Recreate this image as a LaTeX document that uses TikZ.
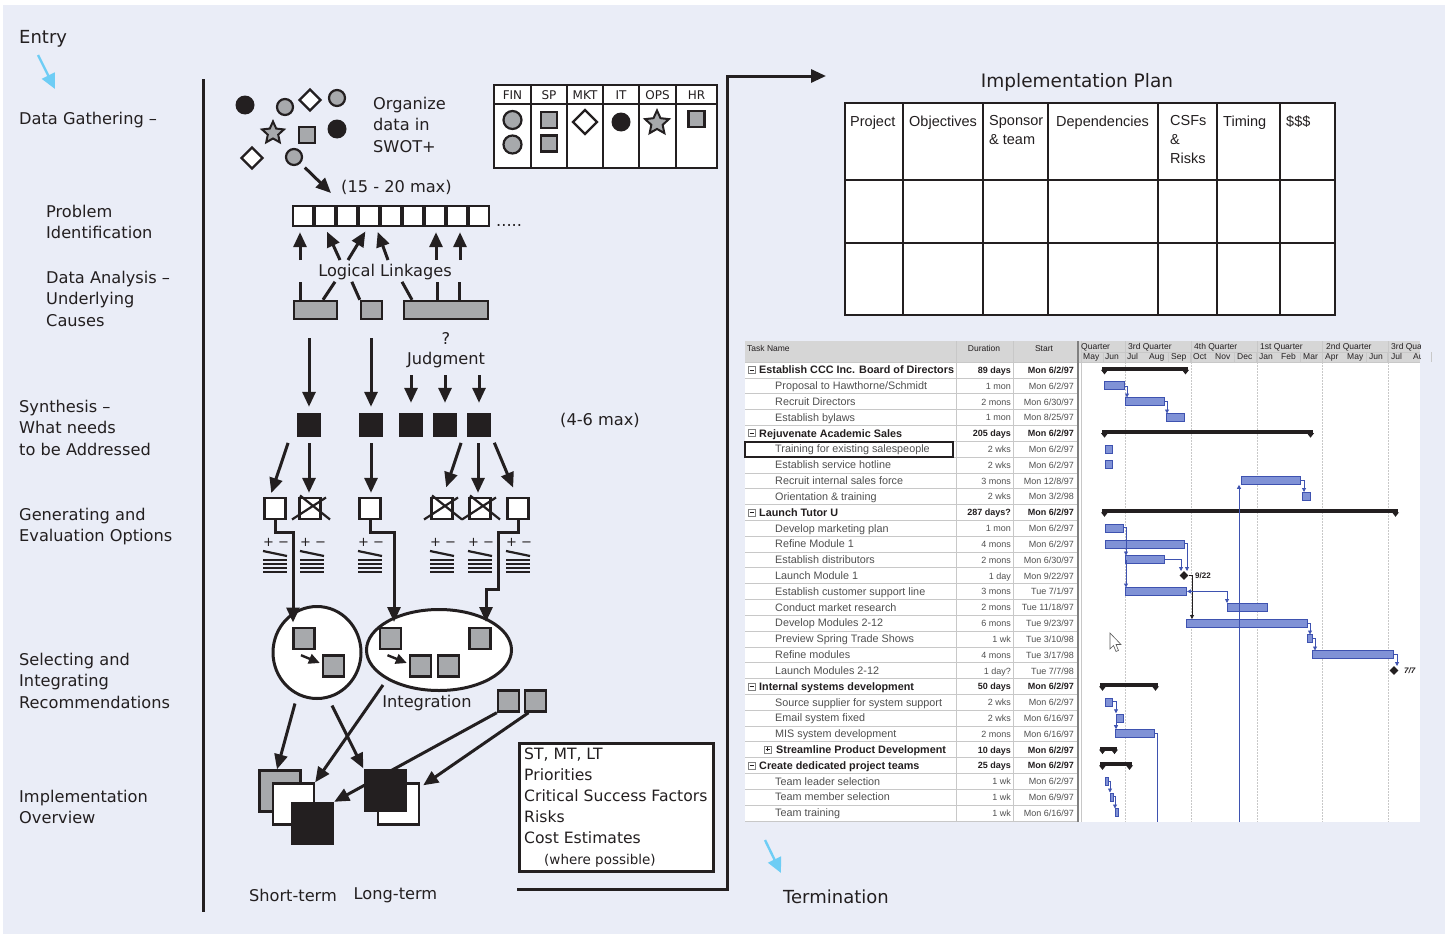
\documentclass[tikz,border=0pt]{standalone}
\usepackage{fontspec}
\setmainfont{DejaVu Sans}
\newfontfamily\planfont{Liberation Sans}
\newfontfamily\ganttfont{Liberation Sans}
\usetikzlibrary{arrows.meta,shapes.geometric}

\definecolor{paper}{RGB}{234,237,247}
\definecolor{ink}{RGB}{35,31,32}
\definecolor{swotgrey}{RGB}{167,169,172}
\definecolor{skyarrow}{RGB}{110,205,245}
\definecolor{barblue}{RGB}{128,146,214}
\definecolor{barline}{RGB}{62,82,176}
\definecolor{ganttgrid}{RGB}{200,200,200}
\definecolor{ganttgrey}{RGB}{214,214,214}
\definecolor{tasktext}{RGB}{80,80,80}

\begin{document}
\begin{tikzpicture}[x=1pt,y=-1pt]
        \tikzstyle{stage}=[anchor=north west, inner sep=0pt, align=left, text=ink, font=\fontsize{16.2}{21.5}\selectfont]
        \tikzstyle{txt}=[inner sep=0pt, text=ink, font=\fontsize{16.2}{21.5}\selectfont]
        \tikzstyle{ln}=[draw=ink, line width=3pt]
        \tikzstyle{arr}=[ln, -{Triangle[length=15pt,width=13pt]}]
        \tikzstyle{arrsmall}=[draw=ink, line width=2.4pt, -{Triangle[length=11pt,width=10pt]}]
        \tikzstyle{cyanarr}=[draw=skyarrow, line width=2.4pt, -{Triangle[length=15pt,width=14pt]}]
        \tikzstyle{gsq}=[rectangle, draw=ink, line width=2.4pt, fill=swotgrey, minimum size=21pt, inner sep=0pt]
        \tikzstyle{wsq}=[rectangle, draw=ink, line width=2.4pt, fill=white, minimum size=21pt, inner sep=0pt]
        \tikzstyle{bsq}=[rectangle, fill=ink, minimum size=24pt, inner sep=0pt]
        \tikzstyle{gdot}=[circle, draw=ink, line width=2.2pt, fill=swotgrey, minimum size=16pt, inner sep=0pt]
        \tikzstyle{bdot}=[circle, fill=ink, minimum size=19pt, inner sep=0pt]
        \tikzstyle{dia}=[diamond, draw=ink, line width=2.2pt, fill=white, minimum size=22pt, inner sep=0pt]
        \tikzstyle{starn}=[star, star points=5, star point ratio=2.1, draw=ink, line width=2pt, fill=swotgrey, minimum size=23pt, inner sep=0pt]
        \tikzstyle{cell}=[rectangle, draw=ink, line width=2.4pt, fill=white, minimum size=20pt, inner sep=0pt]
        \tikzstyle{colhead}=[anchor=north west, inner sep=0pt, align=left, text=ink, font=\planfont\fontsize{14.5}{19}\selectfont]
        \tikzstyle{gtxt}=[inner sep=0pt, anchor=base west, text=tasktext, font=\ganttfont\fontsize{10.8}{11}\selectfont]
        \tikzstyle{gnum}=[inner sep=0pt, anchor=base east, text=tasktext, font=\ganttfont\fontsize{9}{9}\selectfont]
        \tikzstyle{ghead}=[inner sep=0pt, anchor=base west, text=ink, font=\ganttfont\fontsize{8.5}{9}\selectfont]
        \tikzstyle{gbar}=[draw=barline, fill=barblue, line width=0.8pt]
        \tikzstyle{link}=[draw=barline, line width=0.8pt, -{Triangle[length=4pt,width=4pt]}]

        \fill[white] (0,0) rectangle (1445,934);
        \fill[paper] (3,5) rectangle (1445,934);
        \useasboundingbox (0,0) rectangle (1445,934);

        \node[stage, font=\fontsize{18}{22}\selectfont] (entry) at (19,30.5) {Entry};
        \coordinate (entrytail) at (38,55);
        \coordinate (entrytip) at (55,89);
        \draw[cyanarr] (entrytail) -- (entrytip);

        \node[stage] (gather) at (19,111.5) {Data Gathering –};
        \node[stage] (probid) at (46,204.5) {Problem\\Identification};
        \node[stage] (analysis) at (46,270.5) {Data Analysis –\\Underlying\\Causes};
        \node[stage] (synth) at (19,399.5) {Synthesis –\\What needs\\to be Addressed};
        \node[stage] (options) at (19,507.5) {Generating and\\Evaluation Options};
        \node[stage] (select) at (19,652.5) {Selecting and\\Integrating\\Recommendations};
        \node[stage] (overview) at (19,789.5) {Implementation\\Overview};

        \draw[ink, line width=3pt] (203,79) -- (203,912);

        \node[bdot] (d1) at (245,105) {};
        \node[gdot] (d2) at (285,107) {};
        \node[dia]  (d3) at (310,100) {};
        \node[gdot] (d4) at (337,98) {};
        \node[starn] (d5) at (273,133) {};
        \node[gsq, minimum size=16pt] (d6) at (307,135) {};
        \node[bdot] (d7) at (337,129) {};
        \node[dia]  (d8) at (252,158) {};
        \node[gdot] (d9) at (294,157) {};
        \node[stage] (swot) at (373,96.5) {Organize\\data in\\SWOT+};

        \coordinate (cap) at (331,193);
        \draw[arr, shorten <=6pt] (d9) -- (cap);
        \node[txt, anchor=west] (maxa) at (341,187) {(15 - 20 max)};

        \foreach \i in {1,...,9}
            \node[cell] (c\i) at ({281+22*\i},216) {};
        \node[txt, anchor=base west] (more) at (496,226) {.....};

        \node[txt] (ll) at (385,272) {Logical Linkages};
        \coordinate (l1) at (300,260);
        \coordinate (l2) at (340,260);
        \coordinate (l3) at (348,260);
        \coordinate (l4) at (388,260);
        \coordinate (l5) at (436,260);
        \coordinate (l6) at (460,260);
        \draw[arr, shorten >=5pt] (l1) -- (l1 |- c1.south);
        \draw[arr, shorten >=5pt] (l2) -- (c2.south);
        \draw[arr, shorten >=5pt] (l3) -- ([xshift=-1pt]c4.south);
        \draw[arr, shorten >=5pt] (l4) -- ([xshift=7pt]c4.south);
        \draw[arr, shorten >=5pt] (l5) -- (l5 |- c7.south);
        \draw[arr, shorten >=5pt] (l6) -- (l6 |- c8.south);

        \node[gsq, minimum width=43pt, minimum height=18pt] (g1) at (315.5,310) {};
        \node[gsq, minimum width=21pt, minimum height=18pt] (g2) at (371.5,310) {};
        \node[gsq, minimum width=84pt, minimum height=18pt] (g3) at (446,310) {};
        \draw[ln] ([xshift=-15.5pt]g1.north) -- ++(0,-18);
        \draw[ln] ([xshift=7.5pt]g1.north) -- ++(12,-18);
        \draw[ln] (g2.north west) -- ++(-8,-18);
        \draw[ln] ([xshift=-34pt]g3.north) -- ++(-10,-18);
        \draw[ln] ([xshift=-9pt]g3.north) -- ++(0,-18);
        \draw[ln] ([xshift=13pt]g3.north) -- ++(0,-18);

        \node[txt] (qm) at (446,338) {?};
        \node[txt] (jdg) at (446,360) {Judgment};
        \foreach \n/\x in {b1/309, b2/371, b3/411, b4/445, b5/479}
            \node[bsq] (\n) at (\x,425) {};
        \node[txt] (maxb) at (600,420) {(4-6 max)};
        \draw[arr, shorten <=18pt, shorten >=6pt] (b1 |- g1.south) -- (b1.north);
        \draw[arr, shorten <=18pt, shorten >=6pt] (b2 |- g2.south) -- (b2.north);
        \foreach \n in {b3,b4,b5}
            \draw[arr, shorten <=7pt, shorten >=10pt] (\n |- jdg.south) -- (\n.north);

        \foreach \n/\x in {w1/275, w2/310, w3/370, w4/442, w5/480, w6/518}
            \node[wsq] (\n) at (\x,508.5) {};
        \foreach \n in {w2,w4,w5} {
            \draw[ink, line width=2.2pt] ([shift={(-18,11)}]\n.center) -- ([shift={(16,-11)}]\n.center);
            \draw[ink, line width=2.2pt] ([shift={(-10,-13)}]\n.center) -- ([shift={(20,11)}]\n.center);
        }
        \draw[arr, shorten <=6pt, shorten >=4pt] ([xshift=-19pt]b1.south) -- ([xshift=-5pt]w1.north);
        \draw[arr, shorten <=6pt, shorten >=4pt] (b1.south) -- (b1.south |- w2.north);
        \draw[arr, shorten <=6pt, shorten >=4pt] (b2.south) -- (b2.south |- w3.north);
        \draw[arr, shorten <=6pt, shorten >=10pt] ([xshift=-16pt]b5.south) -- ([xshift=1pt]w4.north);
        \draw[arr, shorten <=6pt, shorten >=4pt] ([xshift=-1pt]b5.south) -- ([xshift=-1pt]b5.south |- w5.north);
        \draw[arr, shorten <=6pt, shorten >=10pt] ([xshift=13pt]b5.south) -- ([xshift=-1pt]w6.north);

        \foreach \x in {263,300,358,430,468,506} {
            \node[txt, anchor=west, font=\fontsize{13}{13}\selectfont] (pm\x) at (\x,542) {+ −};
            \draw[ink, line width=2.2pt] (\x,551) -- (\x+24,556);
            \foreach \yy in {560,564,568,572}
                \draw[ink, line width=2.2pt] (\x,\yy) -- (\x+24,\yy);
        }

        \node[ellipse, draw=ink, line width=3pt, fill=white, minimum width=88pt, minimum height=92pt, inner sep=0pt] (e1) at (317,652.5) {};
        \node[ellipse, draw=ink, line width=3pt, fill=white, minimum width=145pt, minimum height=81pt, inner sep=0pt] (e2) at (439,650) {};
        \draw[arr] (w1.south) -- ++(0,12) -| ([shift={(-24,-30)}]e1.center);
        \draw[arr] (w3.south) -- ++(0,12) -| ([shift={(-45,-28)}]e2.center);
        \draw[arr] (w6.south) -- ++(0,12) -| ++(-20,57) -| ([shift={(47,-28)}]e2.center);

        \node[gsq] (s1) at (304,638.5) {};
        \node[gsq] (s2) at (333.5,666) {};
        \node[gsq] (s3) at (390.5,638.5) {};
        \node[gsq] (s4) at (420.5,666) {};
        \node[gsq] (s5) at (448.5,666) {};
        \node[gsq] (s6) at (480,638.5) {};
        \draw[arrsmall] ([shift={(-3,5)}]s1.south) -- ([shift={(-2,-3)}]s2.west);
        \draw[arrsmall] ([shift={(-3,5)}]s3.south) -- ([shift={(-2,-3)}]s4.west);

        \node[txt] (integ) at (427,703) {Integration};
        \node[gsq] (p1) at (508.5,701) {};
        \node[gsq] (p2) at (535.5,701) {};

        \node[gsq, minimum size=41pt] (st1) at (280,791) {};
        \node[wsq, minimum size=41pt] (st2) at (293.5,804) {};
        \node[bsq, minimum size=43pt] (st3) at (312.5,823.5) {};
        \draw[arr] (p1.south west) -- (st3.north east);
        \node[wsq, minimum size=41pt] (lt2) at (398.5,804) {};
        \node[bsq, minimum size=43pt] (lt1) at (385,790) {};
        \draw[arr] ([shift={(-22,51)}]e1.center) -- ([xshift=-3pt]st1.north);
        \draw[arr] ([shift={(15,53)}]e1.center) -- (lt1.north west);
        \draw[arr] ([shift={(-56,35)}]e2.center) -- (st2.north east);
        \draw[arr] ([xshift=-7pt]p2.south) -- ([shift={(3,3)}]lt2.north east);
        \node[txt] (short) at (293,895) {Short-term};
        \node[txt] (long) at (395.5,895) {Long-term};

        \node[draw=ink, line width=3pt, fill=white, anchor=north west, minimum width=194pt, minimum height=128pt, inner sep=0pt] (notesbox) at (518,742) {};
        \node[anchor=north west, inner sep=0pt, align=left, text=ink, font=\fontsize{15.6}{21}\selectfont] (notes) at (524,748) {ST, MT, LT\\Priorities\\Critical Success Factors\\Risks\\Cost Estimates\\\hspace*{20pt}{\fontsize{13.5}{16}\selectfont(where possible)}};

        \coordinate (fromnotes) at (517,889);
        \coordinate (toplan) at (826,76);
        \draw[arr] (fromnotes) -| ([xshift=-99pt]toplan) -- (toplan);

        \draw[ink, line width=2.8pt, fill=white] (494,85) rectangle (717,168);
        \draw[ink, line width=2.8pt] (494,104) -- (717,104);
        \foreach \x in {531,567,603,639,676}
            \draw[ink, line width=2.8pt] (\x,85) -- (\x,168);
        \foreach \x/\h in {512.5/FIN, 549/SP, 585/MKT, 621/IT, 657.5/OPS, 696.5/HR}
            \node[txt, font=\fontsize{12}{12}\selectfont] (h\h) at (\x,95) {\h};
        \node[gdot, minimum size=18pt] (fin1) at (512.5,120) {};
        \node[gdot, minimum size=18pt] (fin2) at (512.5,144.5) {};
        \node[gsq, minimum size=16pt] (sp1) at (549,120) {};
        \node[gsq, minimum size=16pt] (sp2) at (549,143.5) {};
        \node[dia, minimum size=25pt] (mkt) at (585,122) {};
        \node[bdot] (it) at (621,122) {};
        \node[starn, minimum size=25pt] (ops) at (657,123) {};
        \node[gsq, minimum size=16pt] (hr) at (696.5,119) {};

        \node[txt, font=\fontsize{18.5}{22}\selectfont] (plan) at (1077,82) {Implementation Plan};
        \draw[ink, line width=2.8pt, fill=white] (845,103) rectangle (1335,315);
        \foreach \x in {903,983,1048,1158,1217,1280}
            \draw[ink, line width=2.8pt] (\x,103) -- (\x,315);
        \foreach \y in {180,243}
            \draw[ink, line width=2.8pt] (845,\y) -- (1335,\y);
        \node[colhead] (hproj) at (850,115.5) {Project};
        \node[colhead] (hobj) at (909,115.5) {Objectives};
        \node[colhead] (hspon) at (989,115.5) {Sponsor\\\& team};
        \node[colhead] (hdep) at (1056,115.5) {Dependencies};
        \node[colhead] (hcsf) at (1170,115.5) {CSFs\\\&\\Risks};
        \node[colhead] (htime) at (1223,115.5) {Timing};
        \node[colhead] (hcost) at (1286,115.5) {\$\$\$};

        \fill[white] (745,341) rectangle (1420,822);
        \fill[ganttgrey] (745,341) rectangle (1420,362);
        \draw[ganttgrid] (745,362) -- (1420,362);
        \draw[ganttgrid] (1081,352) -- (1420,352);
        \foreach \r in {1,...,29}
            \draw[ganttgrid] (745,{362+15.82*\r}) -- (1077,{362+15.82*\r});
        \draw[ganttgrid] (956,341) -- (956,822);
        \draw[ganttgrid] (1013,341) -- (1013,822);
        \draw[gray, line width=1.5pt] (1078,341) -- (1078,822);
        \draw[ganttgrid] (1081,341) -- (1081,822);
        \foreach \x in {1125,1191,1257,1322,1388}
            \draw[ganttgrid, dash pattern=on 1.5pt off 1.5pt] (\x,362) -- (\x,822);
        \foreach \x in {1125,1191,1257,1322,1388}
            \draw[ganttgrid] (\x,341) -- (\x,362);
        \foreach \k in {1,2,4,5,7,8,10,11,13,14,16}
            \draw[ganttgrid] ({1081+21.9*\k},352) -- ({1081+21.9*\k},362);

        \node[ghead] (gtask) at (747,351) {Task Name};
        \node[ghead, anchor=base] (gdur) at (984,351) {Duration};
        \node[ghead, anchor=base] (gstart) at (1044,351) {Start};
        \begin{scope}
            \clip (1081,341) rectangle (1420,362);
            \foreach \x/\q in {1064.5/2nd Quarter, 1128/3rd Quarter, 1194/4th Quarter, 1260/1st Quarter, 1326/2nd Quarter, 1391/3rd Quarter}
                \node[ghead] (q\x) at (\x,349.5) {\q};
            \foreach \x/\m in {1083/May, 1105/Jun, 1127/Jul, 1149/Aug, 1171/Sep, 1193/Oct, 1215/Nov, 1237/Dec, 1259/Jan, 1281/Feb, 1303/Mar, 1325/Apr, 1347/May, 1369/Jun, 1391/Jul, 1413/Aug}
                \node[ghead] (m\x) at (\x,359.5) {\m};
        \end{scope}

        \begin{scope}
            \clip (745,362) rectangle (955,822);
            \foreach \r/\t in {2/{Proposal to Hawthorne/Schmidt}, 3/{Recruit Directors}, 4/{Establish bylaws}, 6/{Training for existing salespeople}, 7/{Establish service hotline}, 8/{Recruit internal sales force}, 9/{Orientation \& training}, 11/{Develop marketing plan}, 12/{Refine Module 1}, 13/{Establish distributors}, 14/{Launch Module 1}, 15/{Establish customer support line}, 16/{Conduct market research}, 17/{Develop Modules 2-12}, 18/{Preview Spring Trade Shows}, 19/{Refine modules}, 20/{Launch Modules 2-12}, 22/{Source supplier for system support}, 23/{Email system fixed}, 24/{MIS system development}, 27/{Team leader selection}, 28/{Team member selection}, 29/{Team training}}
                \node[gtxt] (task\r) at (775,{358+15.82*\r}) {\t};
            \foreach \r/\bx/\tx/\t in {1/748/759/{Establish CCC Inc. Board of Directors}, 5/748/759/{Rejuvenate Academic Sales}, 10/748/759/{Launch Tutor U}, 21/748/759/{Internal systems development}, 25/764/776/{Streamline Product Development}, 26/748/759/{Create dedicated project teams}} {
                \pgfmathsetmacro\yc{354.1+15.82*\r}
                \draw[gray, line width=0.5pt] (\bx,\yc-3.5) rectangle ++(7,7);
                \draw[ink, line width=0.6pt] (\bx+1.5,\yc) -- (\bx+5.5,\yc);
                \node[gtxt, text=ink, font=\ganttfont\bfseries\fontsize{10.8}{11}\selectfont] (task\r) at (\tx,\yc+4) {\t};
            }
        \end{scope}
        \draw[ink, line width=0.6pt] (767.5,747) -- (767.5,751);
        \draw[ink, line width=1.6pt] (745,442) rectangle (953,457);

        \foreach \r/\d/\s in {2/{1 mon}/{Mon 6/2/97}, 3/{2 mons}/{Mon 6/30/97}, 4/{1 mon}/{Mon 8/25/97}, 6/{2 wks}/{Mon 6/2/97}, 7/{2 wks}/{Mon 6/2/97}, 8/{3 mons}/{Mon 12/8/97}, 9/{2 wks}/{Mon 3/2/98}, 11/{1 mon}/{Mon 6/2/97}, 12/{4 mons}/{Mon 6/2/97}, 13/{2 mons}/{Mon 6/30/97}, 14/{1 day}/{Mon 9/22/97}, 15/{3 mons}/{Tue 7/1/97}, 16/{2 mons}/{Tue 11/18/97}, 17/{6 mons}/{Tue 9/23/97}, 18/{1 wk}/{Tue 3/10/98}, 19/{4 mons}/{Tue 3/17/98}, 20/{1 day?}/{Tue 7/7/98}, 22/{2 wks}/{Mon 6/2/97}, 23/{2 wks}/{Mon 6/16/97}, 24/{2 mons}/{Mon 6/16/97}, 27/{1 wk}/{Mon 6/2/97}, 28/{1 wk}/{Mon 6/9/97}, 29/{1 wk}/{Mon 6/16/97}} {
            \node[gnum] (dur\r) at (1011,{357.6+15.82*\r}) {\d};
            \node[gnum] (start\r) at (1074,{357.6+15.82*\r}) {\s};
        }
        \foreach \r/\d in {1/{89 days}, 5/{205 days}, 10/{287 days?}, 21/{50 days}, 25/{10 days}, 26/{25 days}} {
            \node[gnum, text=ink, font=\ganttfont\bfseries\fontsize{9}{9}\selectfont] (dur\r) at (1011,{357.6+15.82*\r}) {\d};
            \node[gnum, text=ink, font=\ganttfont\bfseries\fontsize{9}{9}\selectfont] (start\r) at (1074,{357.6+15.82*\r}) {Mon 6/2/97};
        }

        \foreach \a/\b/\r in {1104/1124/2, 1125/1164/3, 1166/1184/4, 1105/1112/6, 1105/1112/7, 1241/1300/8, 1302/1310/9, 1105/1123/11, 1105/1184/12, 1125/1164/13, 1125/1186/15, 1227/1267/16, 1186/1307/17, 1307/1312/18, 1312/1393/19, 1105/1112/22, 1116/1123/23, 1115/1154/24, 1105/1108/27, 1110/1113/28, 1115/1118/29}
            \draw[gbar] (\a,{354.1+15.82*\r-4}) rectangle (\b,{354.1+15.82*\r+4});
        \foreach \a/\b/\r in {1102/1188/1, 1102/1313/5, 1102/1398/10, 1100/1158/21, 1100/1117/25, 1100/1132/26} {
            \pgfmathsetmacro\yc{354.1+15.82*\r}
            \fill[ink] (\a,\yc-3) rectangle (\b,\yc+1);
            \fill[ink] (\a-1,\yc) -- (\a+6,\yc) -- (\a+2.5,\yc+4.5) -- cycle;
            \fill[ink] (\b-6,\yc) -- (\b+1,\yc) -- (\b-2.5,\yc+4.5) -- cycle;
        }
        \node[diamond, fill=ink, minimum size=9pt, inner sep=0pt] (ms14) at (1184,575.5) {};
        \node[gnum, anchor=base west, text=ink, font=\ganttfont\bfseries\fontsize{8}{8}\selectfont] (ms14l) at (1195,578) {9/22};
        \node[diamond, fill=ink, minimum size=9pt, inner sep=0pt] (ms20) at (1394,670.5) {};
        \node[gnum, anchor=base west, text=ink, font=\ganttfont\bfseries\itshape\fontsize{8}{8}\selectfont] (ms20l) at (1404,673) {7/7};

        \draw[link] (1124,385.9) -- (1127,385.9) -- (1127,397.5);
        \draw[link] (1164,401.6) -- (1167,401.6) -- (1167,413.5);
        \draw[link] (1300,480.7) -- (1304,480.7) -- (1304,492);
        \draw[link] (1123,527.7) -- (1126,527.7) -- (1126,555.5);
        \draw[link] (1126,560) -- (1126,587.5);
        \draw[link] (1164,559.6) -- (1181,559.6) -- (1181,571);
        \draw[link] (1184,543.7) -- (1187,543.7) -- (1187,571);
        \draw[link, draw=ink] (1189,575.5) -- (1192,575.5) -- (1192,619);
        \draw[link, {Triangle[length=4pt,width=4pt]}-{Triangle[length=4pt,width=4pt]}] (1187,591.4) -- (1227,591.4) -- (1227,603);
        \draw[link] (1307,623) -- (1310,623) -- (1310,634.5);
        \draw[link] (1312,638.8) -- (1315,638.8) -- (1315,650.5);
        \draw[link] (1393,654.7) -- (1397,654.7) -- (1397,666);
        \draw[link] (1239,822) -- (1239,484.8);
        \draw[link] (1112,701.7) -- (1116,701.7) -- (1116,713.3);
        \draw[link] (1116,718) -- (1116,729.2);
        \draw[barline, line width=0.8pt] (1154,733.3) -- (1157,733.3) -- (1157,822);
        \draw[link] (1108,781) -- (1110,781) -- (1110,792.5);
        \draw[link] (1113,796.8) -- (1115,796.8) -- (1115,808.5);
        \draw[fill=white, draw=gray!70!black, line width=0.6pt] (1110,633) -- (1110,649) -- (1113.5,645.5) -- (1116,651.5) -- (1118.5,650.5) -- (1116,644.5) -- (1121,644.5) -- cycle;

        \coordinate (termtail) at (765,840);
        \coordinate (termtip) at (781,873);
        \draw[cyanarr] (termtail) -- (termtip);
        \node[stage, font=\fontsize{18}{22}\selectfont] (term) at (783,889.4) {Termination};
    \end{tikzpicture}
\end{document}
